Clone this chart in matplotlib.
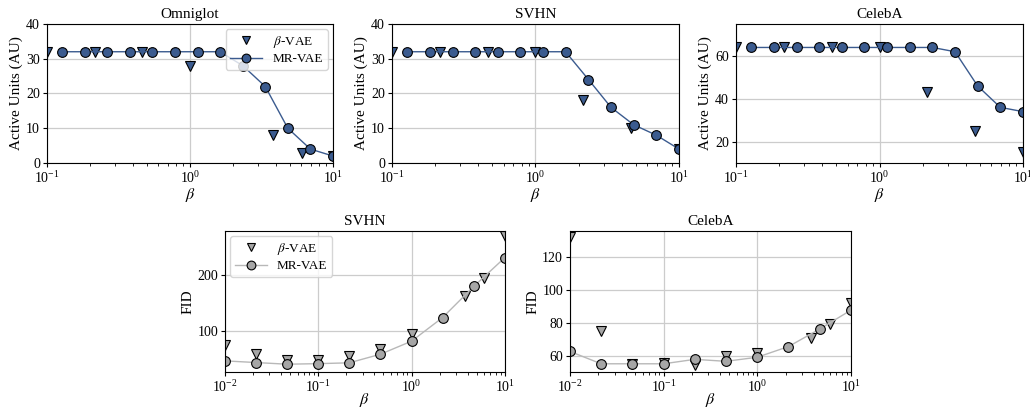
import numpy as np
import matplotlib
matplotlib.use("Agg")
import matplotlib.pyplot as plt

plt.rcParams['font.family'] = ['Liberation Serif', 'DejaVu Serif']
plt.rcParams['mathtext.fontset'] = 'stix'
plt.rcParams['font.size'] = 10

# beta values
mr_x_top = [0.127, 0.183, 0.264, 0.379, 0.546, 0.785, 1.13, 1.62, 2.34, 3.36, 4.83, 6.95, 10.0]
bv_x_top = [0.1, 0.215, 0.464, 1.0, 2.15, 4.64, 10.0]
bv_x_omni = [0.1, 0.215, 0.464, 1.0, 3.79, 6.1, 10.0]
mr_x_bot = [0.01, 0.0215, 0.0464, 0.1, 0.215, 0.464, 1.0, 2.15, 4.64, 10.0]
bv_x_bot = [0.01, 0.0215, 0.0464, 0.1, 0.215, 0.464, 1.0, 3.7, 6.0, 10.0]

# active units
omni_mr = [32, 32, 32, 32, 32, 32, 32, 32, 28, 22, 10, 4, 2]
omni_bv = [32, 32, 32, 28, 8, 3, 2]
svhn_mr = [32, 32, 32, 32, 32, 32, 32, 32, 24, 16, 11, 8, 4]
svhn_bv = [32, 32, 32, 32, 18, 10, 4]
celeba_mr = [64, 64, 64, 64, 64, 64, 64, 64, 64, 62, 46, 36, 34]
celeba_bv = [64, 64, 64, 64, 43, 25, 15]

# FID
svhn_fid_mr = [46, 43, 40, 41, 42.5, 58, 81.5, 124, 180, 232]
svhn_fid_bv = [75, 59, 48, 47, 54, 67, 94, 163, 196, 270]
celeba_fid_mr = [62.5, 55, 55, 55, 57.7, 56.5, 59, 65.5, 76.2, 87.7]
celeba_fid_bv = [132, 75, 55, 55.5, 54, 60, 61.5, 71, 79, 92]

blue = '#3b5b8f'
gray = '#a6a6a6'
gray_line = '#b8b8b8'

fig = plt.figure(figsize=(10.30, 4.09), dpi=100)

ax1 = fig.add_axes([0.0456, 0.6015, 0.2777, 0.340])
ax2 = fig.add_axes([0.3806, 0.6015, 0.2786, 0.340])
ax3 = fig.add_axes([0.7146, 0.6015, 0.2786, 0.340])
ax4 = fig.add_axes([0.2184, 0.0905, 0.2718, 0.345])
ax5 = fig.add_axes([0.5534, 0.0905, 0.2728, 0.345])


def draw(ax, xb, yb, xm, ym, fill, line, title, ylabel, xpad=0):
    ax.plot(xb, yb, 'v', ms=6.5, mfc=fill, mec='black', mew=0.8, ls='none', label=r'$\beta$-VAE')
    ax.plot(xm, ym, '-o', color=line, lw=1, ms=7, mfc=fill, mec='black', mew=0.8, label='MR-VAE')
    ax.set_xscale('log')
    ax.set_title(title, fontsize=11, pad=4)
    ax.set_xlabel(r'$\beta$', fontsize=11.5, labelpad=xpad)
    ax.set_ylabel(ylabel, fontsize=11, labelpad=2)
    ax.grid(True, which='major', color='#cccccc', lw=0.9)
    ax.set_axisbelow(True)
    ax.tick_params(labelsize=10, direction='out', length=3, pad=2)
    ax.tick_params(which='minor', length=2)


draw(ax1, bv_x_omni, omni_bv, mr_x_top, omni_mr, blue, blue, 'Omniglot', 'Active Units (AU)')
draw(ax2, bv_x_top, svhn_bv, mr_x_top, svhn_mr, blue, blue, 'SVHN', 'Active Units (AU)')
draw(ax3, bv_x_top, celeba_bv, mr_x_top, celeba_mr, blue, blue, 'CelebA', 'Active Units (AU)')
draw(ax4, bv_x_bot, svhn_fid_bv, mr_x_bot, svhn_fid_mr, gray, gray_line, 'SVHN', 'FID', xpad=-2.5)
draw(ax5, bv_x_bot, celeba_fid_bv, mr_x_bot, celeba_fid_mr, gray, gray_line, 'CelebA', 'FID', xpad=-2.5)

for ax in (ax1, ax2, ax3):
    ax.set_xlim(0.1, 10)
for ax in (ax4, ax5):
    ax.set_xlim(0.01, 10)

ax1.set_ylim(0, 40)
ax2.set_ylim(0, 40)
ax3.set_ylim(10, 75)
ax3.set_yticks([20, 40, 60])
ax4.set_ylim(26, 280)
ax4.set_yticks([100, 200])
ax5.set_ylim(50, 136)
ax5.set_yticks([60, 80, 100, 120])

leg_kw = dict(fontsize=9.5, framealpha=0.8, handlelength=2.4, borderpad=0.35,
              labelspacing=0.25, handletextpad=0.8, borderaxespad=0.4, markerscale=0.9)
ax1.legend(loc='upper right', **leg_kw)
ax4.legend(loc='upper left', **leg_kw)

fig.savefig('out.png', dpi=100)
